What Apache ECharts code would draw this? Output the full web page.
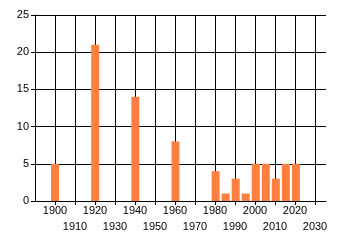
<!DOCTYPE html>
<html><head><meta charset="utf-8">
<script src="https://cdn.jsdelivr.net/npm/echarts@6/dist/echarts.min.js"></script>
<style>html,body{margin:0;padding:0;background:#fff}#c{width:340px;height:245px}</style>
</head><body><div id="c"></div>
<script>
var years = [1900, 1920, 1940, 1960, 1980, 1985, 1990, 1995, 2000, 2005, 2010, 2015, 2020];
var values = [5, 21, 14, 8, 4, 1, 3, 1, 5, 5, 3, 5, 5];
var yTicks = [0, 5, 10, 15, 20, 25];
var xMin = 1890, xMax = 2035, xGridMax = 2030, xStep = 10;

var font = {fontFamily: 'Liberation Sans', fontSize: 11, color: '#000'};
function isOdd(v) { return Math.round(v / 10) % 2 === 1; }
var chart = echarts.init(document.getElementById('c'), null, {renderer: 'canvas'});
chart.setOption({
  animation: false,
  backgroundColor: '#fff',
  grid: [
    {left: 35, top: 15, right: 14, bottom: 44},
    {left: 35, top: 15, right: 25, bottom: 44}
  ],
  xAxis: [
    {type: 'value', gridIndex: 0, min: xMin, max: xMax,
     axisLine: {show: true, lineStyle: {color: '#000', width: 1}},
     axisTick: {show: false}, axisLabel: {show: false}, splitLine: {show: false}},
    {type: 'value', gridIndex: 1, min: xMin, max: xGridMax, interval: xStep,
     axisLine: {show: false},
     axisTick: {show: true, length: 4, lineStyle: {color: '#000'}},
     splitLine: {show: true, lineStyle: {color: '#000', width: 1}},
     axisLabel: Object.assign({
       margin: 4, showMinLabel: false, showMaxLabel: true, hideOverlap: false,
       formatter: function (v) { return (isOdd(v) || v === xMin) ? '' : '' + v; }
     }, font)},
    {type: 'value', gridIndex: 1, min: xMin, max: xGridMax, interval: xStep, position: 'bottom',
     axisLine: {show: false}, axisTick: {show: false}, splitLine: {show: false},
     axisLabel: Object.assign({
       margin: 20, showMinLabel: false, showMaxLabel: true, hideOverlap: false,
       formatter: function (v) { return isOdd(v) ? '' + v : ''; }
     }, font)}
  ],
  yAxis: [
    {type: 'value', gridIndex: 0, min: yTicks[0], max: yTicks[yTicks.length - 1], interval: 5,
     axisLine: {show: true, lineStyle: {color: '#000', width: 1}},
     axisTick: {show: true, length: 4, lineStyle: {color: '#000'}},
     splitLine: {show: true, lineStyle: {color: '#000', width: 1}},
     axisLabel: Object.assign({margin: 6}, font)},
    {type: 'value', gridIndex: 1, min: 0, max: 25, show: false, splitLine: {show: false}}
  ],
  series: [{
    type: 'bar', xAxisIndex: 0, yAxisIndex: 0, barWidth: 8,
    itemStyle: {color: '#ff7f40'},
    data: years.map(function (y, i) { return [y, values[i]]; })
  }]
});
</script></body></html>
